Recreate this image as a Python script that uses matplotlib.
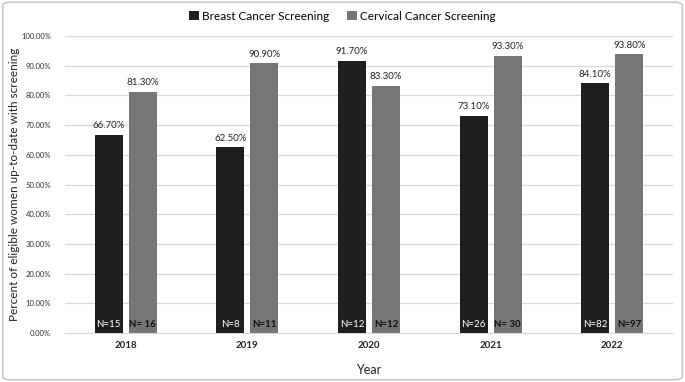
import numpy as np
import matplotlib.pyplot as plt
from matplotlib.patches import FancyBboxPatch

years = ["2018", "2019", "2020", "2021", "2022"]
breast = [66.7, 62.5, 91.7, 73.1, 84.1]
cervical = [81.3, 90.9, 83.3, 93.3, 93.8]
breast_n = ["N=15", "N=8", "N=12", "N=26", "N=82"]
cervical_n = ["N= 16", "N=11", "N=12", "N= 30", "N=97"]

plt.rcParams['font.family'] = ['Lato', 'DejaVu Sans']

fig = plt.figure(figsize=(6.85, 3.82), dpi=100)
ax = fig.add_axes([65 / 685, 1 - 333 / 382, (673 - 65) / 685, (333 - 36) / 382])

x = np.arange(len(years))
w = 0.23
off = 0.14
dark = '#1f1f1f'
grey = '#767676'

b1 = ax.bar(x - off, breast, w, color=dark, label='Breast Cancer Screening', zorder=3)
b2 = ax.bar(x + off, cervical, w, color=grey, label='Cervical Cancer Screening', zorder=3)

for i in range(len(years)):
    ax.text(x[i] - off, breast[i] + 1.5, f"{breast[i]:.2f}%", ha='center', va='bottom', fontsize=7, color='#222222')
    ax.text(x[i] + off, cervical[i] + 1.5, f"{cervical[i]:.2f}%", ha='center', va='bottom', fontsize=7, color='#222222')
    # sample sizes sit at the foot of each bar
    ax.text(x[i] - off, 1.2, breast_n[i], ha='center', va='bottom', fontsize=7, color='white')
    ax.text(x[i] + off, 1.2, cervical_n[i], ha='center', va='bottom', fontsize=7, color='#111111', fontweight='bold')

ax.set_xlim(-0.5, len(years) - 0.5)
ax.set_ylim(0, 100)
ax.set_yticks(np.arange(0, 101, 10))
ax.set_yticklabels([f"{v:.2f}%" for v in np.arange(0, 101, 10)], fontsize=5.5, color='#333333')
ax.set_xticks(x)
ax.set_xticklabels(years, fontsize=7, fontweight='bold', color='#222222')
ax.tick_params(axis='x', length=0, pad=6)
ax.tick_params(axis='y', length=0, pad=10)
ax.grid(axis='y', color='#d9d9d9', linewidth=0.9, zorder=0)
for s in ['top', 'right', 'left']:
    ax.spines[s].set_visible(False)
ax.spines['bottom'].set_color('#d9d9d9')

ax.set_ylabel('Percent of eligible women up-to-date with screening', fontsize=8.5, color='#222222')
ax.yaxis.set_label_coords(-0.074, 0.5)
ax.set_xlabel('Year', fontsize=9, color='#222222')
ax.xaxis.set_label_coords(0.5, -0.105)

fig.legend(handles=[b1, b2], loc='center', bbox_to_anchor=(0.5, 1 - 16 / 382), ncol=2, frameon=False,
           fontsize=8.5, handlelength=0.8, handleheight=0.8, columnspacing=1.5, handletextpad=0.3)

border = FancyBboxPatch((0.004, 0.006), 0.992, 0.988, boxstyle='round,pad=0,rounding_size=0.01',
                        transform=fig.transFigure, fill=False, edgecolor='#c8c8c8', linewidth=1.2)
fig.patches.append(border)

fig.savefig('out.png', dpi=100)
